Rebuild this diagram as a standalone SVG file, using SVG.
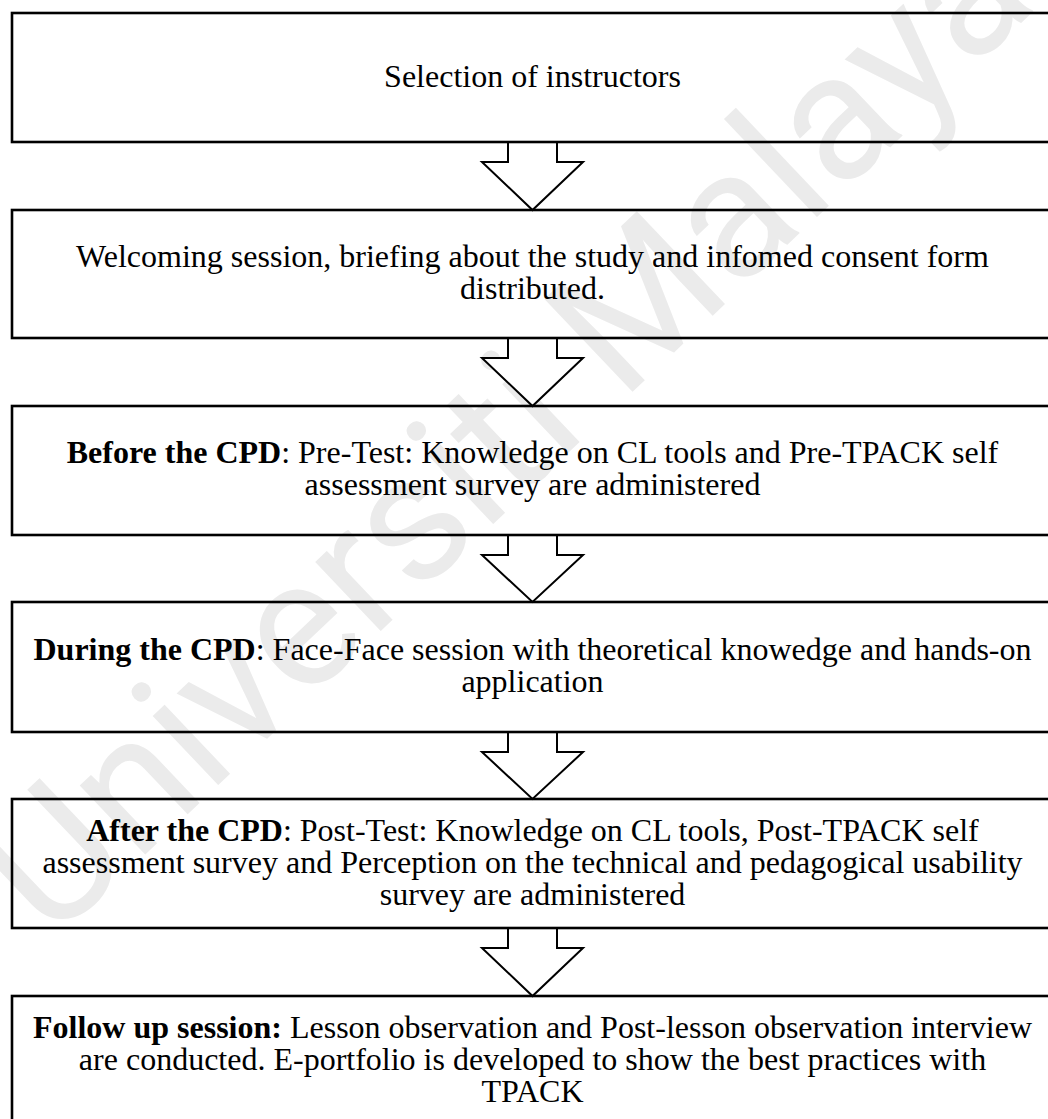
<svg xmlns="http://www.w3.org/2000/svg" width="1048" height="1119" viewBox="0 0 1048 1119">
  <style>
    .box { fill: none; stroke: #000; stroke-width: 2.6; }
    .arrow-fill { fill: #fff; stroke: none; }
    .arrow-line { fill: none; stroke: #000; stroke-width: 2; stroke-linejoin: miter; }
    .label { font-family: "Liberation Serif", "Times New Roman", serif; font-size: 32px; fill: #000; text-anchor: middle; }
    .b { font-weight: bold; }
    .wm { font-family: Roboto, "Open Sans", sans-serif; font-size: 180px; fill: #ebebeb; text-anchor: middle; }
  </style>

  <rect width="1048" height="1119" fill="#fff"/>

  <!-- background watermark -->
  <text class="wm" transform="translate(546,474) rotate(-43.5)">Universiti Malaya</text>

  <g id="connectors">
    <!-- block arrow 1: 142 -> 210 -->
    <path class="arrow-fill" d="M508,139 V162 H482 L532.5,210 L583,162 H557 V139 Z"/>
    <path class="arrow-line" d="M508,142 V162 H482 L532.5,210 L583,162 H557 V142"/>
    <!-- block arrow 2: 338 -> 406 -->
    <path class="arrow-fill" d="M508,335 V358 H482 L532.5,406 L583,358 H557 V335 Z"/>
    <path class="arrow-line" d="M508,338 V358 H482 L532.5,406 L583,358 H557 V338"/>
    <!-- block arrow 3: 535 -> 602 -->
    <path class="arrow-fill" d="M508,532 V555 H482 L532.5,602 L583,555 H557 V532 Z"/>
    <path class="arrow-line" d="M508,535 V555 H482 L532.5,602 L583,555 H557 V535"/>
    <!-- block arrow 4: 732 -> 799 -->
    <path class="arrow-fill" d="M508,729 V752 H482 L532.5,799 L583,752 H557 V729 Z"/>
    <path class="arrow-line" d="M508,732 V752 H482 L532.5,799 L583,752 H557 V732"/>
    <!-- block arrow 5: 928 -> 996 -->
    <path class="arrow-fill" d="M508,925 V948 H482 L532.5,996 L583,948 H557 V925 Z"/>
    <path class="arrow-line" d="M508,928 V948 H482 L532.5,996 L583,948 H557 V928"/>
  </g>

  <g id="step1">
    <rect class="box" x="12" y="13" width="1100" height="129"/>
    <text class="label" x="532.5" y="87">Selection of instructors</text>
  </g>

  <g id="step2">
    <rect class="box" x="12" y="210" width="1100" height="128"/>
    <text class="label" x="532.5" y="267">Welcoming session, briefing about the study and infomed consent form</text>
    <text class="label" x="532.5" y="299">distributed.</text>
  </g>

  <g id="step3">
    <rect class="box" x="12" y="406" width="1100" height="129"/>
    <text class="label" x="532.5" y="463"><tspan class="b">Before the CPD</tspan>: Pre-Test: Knowledge on CL tools and Pre-TPACK self</text>
    <text class="label" x="532.5" y="495">assessment survey are administered</text>
  </g>

  <g id="step4">
    <rect class="box" x="12" y="602" width="1100" height="130"/>
    <text class="label" x="532.5" y="660"><tspan class="b">During the CPD</tspan>: Face-Face session with theoretical knowedge and hands-on</text>
    <text class="label" x="532.5" y="692">application</text>
  </g>

  <g id="step5">
    <rect class="box" x="12" y="799" width="1100" height="129"/>
    <text class="label" x="532.5" y="841"><tspan class="b">After the CPD</tspan>: Post-Test: Knowledge on CL tools, Post-TPACK self</text>
    <text class="label" x="532.5" y="873">assessment survey and Perception on the technical and pedagogical usability</text>
    <text class="label" x="532.5" y="905">survey are administered</text>
  </g>

  <g id="step6">
    <rect class="box" x="12" y="996" width="1100" height="130"/>
    <text class="label" x="532.5" y="1038"><tspan class="b">Follow up session:</tspan> Lesson observation and Post-lesson observation interview</text>
    <text class="label" x="532.5" y="1070">are conducted. E-portfolio is developed to show the best practices with</text>
    <text class="label" x="532.5" y="1102">TPACK</text>
  </g>
</svg>
